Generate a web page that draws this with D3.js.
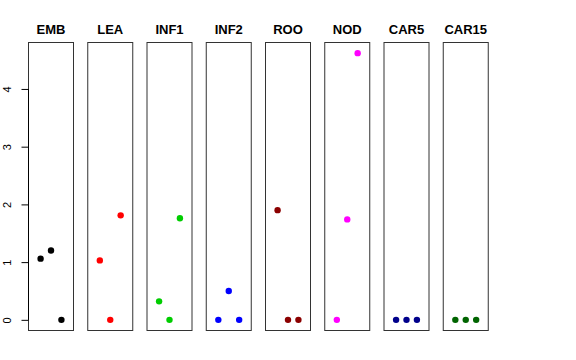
<!DOCTYPE html>
<html><head><meta charset="utf-8">
<script src="https://cdn.jsdelivr.net/npm/d3@7"></script>
<style>body{margin:0;background:#fff}</style>
</head><body>
<svg id="c" width="576" height="360"></svg>
<script>
const categories = ["EMB","LEA","INF1","INF2","ROO","NOD","CAR5","CAR15"];
const colors = ["#000000","#FF0000","#00CD00","#0000FF","#8B0000","#FF00FF","#00008B","#006400"];
const values = [
  [1.06, 1.20, 0],
  [1.03, 0, 1.81],
  [0.32, 0, 1.76],
  [0, 0.50, 0],
  [1.90, 0, 0],
  [0, 1.74, 4.62],
  [0, 0, 0],
  [0, 0, 0]
];
const yTicks = [0,1,2,3,4];

(function(){
const svg = d3.select("#c");
const panelW = 45, step = 59.25, left0 = 28.5, plotTop = 42.5, plotBottom = 330.5;
const ymax = 4.62;
const y = d3.scaleLinear().domain([-0.04*ymax, ymax*1.04]).range([plotBottom, plotTop]);
const x = d3.scaleLinear().domain([-0.16, 4.16]).range([0, panelW]);

categories.forEach((cat, i) => {
  const g = svg.append("g").attr("transform", `translate(${left0 + i*step},0)`);
  g.append("rect").attr("x", 0).attr("y", plotTop).attr("width", panelW).attr("height", plotBottom-plotTop)
    .attr("fill","none").attr("stroke","#333").attr("stroke-width",1);
  g.append("text").attr("x", panelW/2).attr("y", 34).attr("text-anchor","middle")
    .attr("font-family","Liberation Sans, Arial, sans-serif").attr("font-weight","bold")
    .attr("font-size",13).text(cat);
  g.selectAll("circle").data(values[i]).enter().append("circle")
    .attr("cx", (d,j) => x(j+1)).attr("cy", d => y(d)).attr("r", 3.2)
    .attr("fill", colors[i]);
  if (i === 0) {
    const ax = g.append("g").call(d3.axisLeft(y).tickValues(yTicks).tickSize(7).tickFormat(d3.format("d")));
    ax.select(".domain").attr("d", `M0,${y(0)}V${y(4)}`).attr("stroke","#000");
    ax.selectAll(".tick line").attr("stroke","#000");
    ax.selectAll(".tick text").attr("font-family","Liberation Sans, Arial, sans-serif").attr("font-size",11)
      .attr("fill","#000").attr("text-anchor","middle")
      .attr("transform", "translate(-21,0) rotate(-90)")
      .attr("x", 0).attr("dy", "0.35em");
  }
});
})();
</script>
</body></html>
